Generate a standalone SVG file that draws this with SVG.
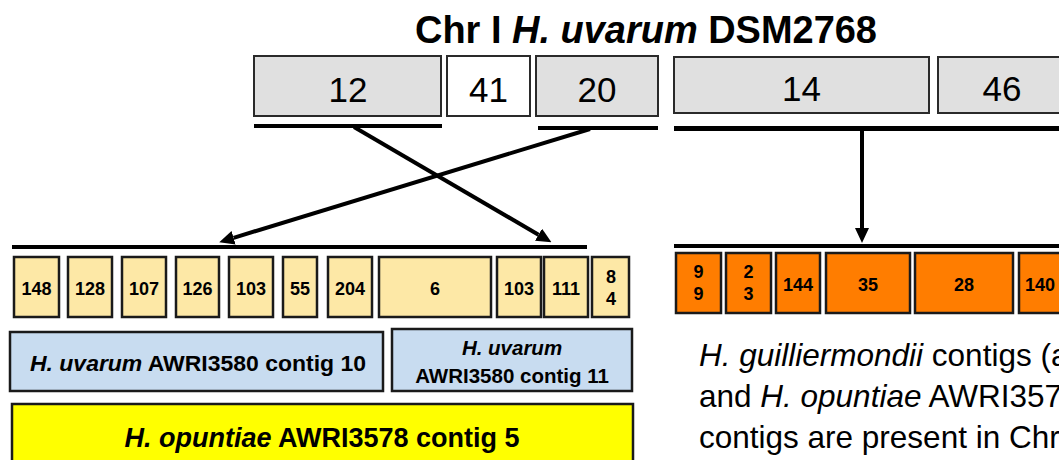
<svg xmlns="http://www.w3.org/2000/svg" width="1059" height="460" viewBox="0 0 1059 460">
  <defs>
    <marker id="head" markerUnits="userSpaceOnUse" markerWidth="15" markerHeight="14" viewBox="0 0 15 14" refX="0" refY="7" orient="auto">
      <path d="M0,0 L15,7 L0,14 z" fill="#000"/>
    </marker>
    <style>
      .chr { fill: #e0e0e0; stroke: #2a2a2a; stroke-width: 2; }
      .chr-w { fill: #ffffff; stroke: #2a2a2a; stroke-width: 2; }
      .num { font-family: "Liberation Sans", Arial, sans-serif; font-size: 35px; fill: #000; text-anchor: middle; }
      .seg-y { fill: #fde8a6; stroke: #1a1a1a; stroke-width: 2.5; }
      .seg-o { fill: #ff7d00; stroke: #1a1a1a; stroke-width: 2.5; }
      .small { font-family: "Liberation Sans", Arial, sans-serif; font-size: 18px; font-weight: bold; fill: #000; text-anchor: middle; }
      .bar { fill: #000; }
      .conn { stroke: #000; stroke-width: 4; fill: none; marker-end: url(#head); }
      .lab { font-family: "Liberation Sans", Arial, sans-serif; font-weight: bold; fill: #000; text-anchor: middle; }
      .blue { fill: #c8dcf0; stroke: #1a1a1a; stroke-width: 2.5; }
      .yel { fill: #ffff00; stroke: #1a1a1a; stroke-width: 2.5; }
      .note { font-family: "Liberation Sans", Arial, sans-serif; font-size: 31.5px; fill: #000; }
      .it { font-style: italic; }
    </style>
  </defs>

  <!-- title -->
  <text id="title" x="646" y="43" class="lab" font-size="38" textLength="462" lengthAdjust="spacingAndGlyphs">Chr I <tspan class="it">H. uvarum</tspan> DSM2768</text>

  <!-- chromosome I segments -->
  <g id="chr-12"><rect class="chr" x="254" y="56" width="187" height="60"/><text class="num" x="348" y="102">12</text></g>
  <g id="chr-41"><rect class="chr-w" x="447" y="56" width="83" height="60"/><text class="num" x="488.5" y="102">41</text></g>
  <g id="chr-20"><rect class="chr" x="536" y="56" width="122" height="60"/><text class="num" x="597" y="102">20</text></g>
  <g id="chr-14"><rect class="chr" x="674" y="57" width="255" height="56"/><text class="num" x="801.5" y="101">14</text></g>
  <g id="chr-46"><rect class="chr" x="938" y="57" width="128" height="56"/><text class="num" x="1002" y="101">46</text></g>

  <!-- spans and mappings -->
  <g id="connectors">
    <rect class="bar" x="254" y="124" width="188" height="4"/>
    <rect class="bar" x="538" y="126" width="120" height="4"/>
    <rect class="bar" x="674" y="126" width="385" height="5"/>
    <rect class="bar" x="12" y="245" width="575" height="4"/>
    <rect class="bar" x="674" y="244" width="385" height="4"/>
    <path class="conn" d="M354,127 L538.5,234.7"/>
    <path class="conn" d="M590,129 L233.6,237.8"/>
    <path class="conn" d="M862,131 L862,228"/>
  </g>

  <!-- H. uvarum AWRI3580 contig segments -->
  <g id="seg-148"><rect class="seg-y" x="14" y="257" width="45" height="60"/><text class="small" x="36.5" y="295">148</text></g>
  <g id="seg-128"><rect class="seg-y" x="68" y="257" width="44" height="60"/><text class="small" x="90" y="295">128</text></g>
  <g id="seg-107"><rect class="seg-y" x="122" y="257" width="44" height="60"/><text class="small" x="144" y="295">107</text></g>
  <g id="seg-126"><rect class="seg-y" x="176" y="257" width="43" height="60"/><text class="small" x="197.5" y="295">126</text></g>
  <g id="seg-103a"><rect class="seg-y" x="229" y="257" width="44" height="60"/><text class="small" x="251" y="295">103</text></g>
  <g id="seg-55"><rect class="seg-y" x="283" y="257" width="34" height="60"/><text class="small" x="300" y="295">55</text></g>
  <g id="seg-204"><rect class="seg-y" x="328" y="257" width="44" height="60"/><text class="small" x="350" y="295">204</text></g>
  <g id="seg-6"><rect class="seg-y" x="379" y="257" width="112" height="60"/><text class="small" x="435" y="295">6</text></g>
  <g id="seg-103b"><rect class="seg-y" x="497" y="257" width="44" height="60"/><text class="small" x="519" y="295">103</text></g>
  <g id="seg-111"><rect class="seg-y" x="544" y="257" width="44" height="60"/><text class="small" x="566" y="295">111</text></g>
  <g id="seg-84"><rect class="seg-y" x="592" y="257" width="37" height="60"/><text class="small" x="611" y="283">8</text><text class="small" x="611" y="305">4</text></g>

  <!-- H. guilliermondii contig segments -->
  <g id="seg-99"><rect class="seg-o" x="676" y="253" width="45" height="60"/><text class="small" x="698.5" y="278">9</text><text class="small" x="698.5" y="300">9</text></g>
  <g id="seg-23"><rect class="seg-o" x="726" y="253" width="45" height="60"/><text class="small" x="748.5" y="278">2</text><text class="small" x="748.5" y="300">3</text></g>
  <g id="seg-144"><rect class="seg-o" x="776" y="253" width="44" height="60"/><text class="small" x="798" y="291">144</text></g>
  <g id="seg-35"><rect class="seg-o" x="826" y="253" width="84" height="60"/><text class="small" x="868" y="291">35</text></g>
  <g id="seg-28"><rect class="seg-o" x="915" y="253" width="98" height="60"/><text class="small" x="964" y="291">28</text></g>
  <g id="seg-140"><rect class="seg-o" x="1019" y="253" width="43" height="60"/><text class="small" x="1040" y="291">140</text></g>

  <!-- assembly labels -->
  <g id="contig-10"><rect class="blue" x="10" y="332" width="373" height="59"/>
    <text class="lab" x="198" y="371" font-size="22" textLength="336" lengthAdjust="spacingAndGlyphs"><tspan class="it">H. uvarum</tspan> AWRI3580 contig 10</text></g>
  <g id="contig-11"><rect class="blue" x="392" y="329" width="240" height="62"/>
    <text class="lab" x="512" y="355" font-size="20.5"><tspan class="it">H. uvarum</tspan></text>
    <text class="lab" x="512" y="383" font-size="20.5">AWRI3580 contig 11</text></g>
  <g id="contig-5"><rect class="yel" x="12" y="404" width="621" height="70"/>
    <text class="lab" x="322" y="447" font-size="27"><tspan class="it">H. opuntiae</tspan> AWRI3578 contig 5</text></g>

  <!-- note -->
  <g id="note">
    <text class="note" x="699" y="366"><tspan class="it">H. guilliermondii</tspan> contigs (a</text>
    <text class="note" x="699" y="407">and <tspan class="it">H. opuntiae</tspan> AWRI357</text>
    <text class="note" x="699" y="448">contigs are present in Chr</text>
  </g>
</svg>
